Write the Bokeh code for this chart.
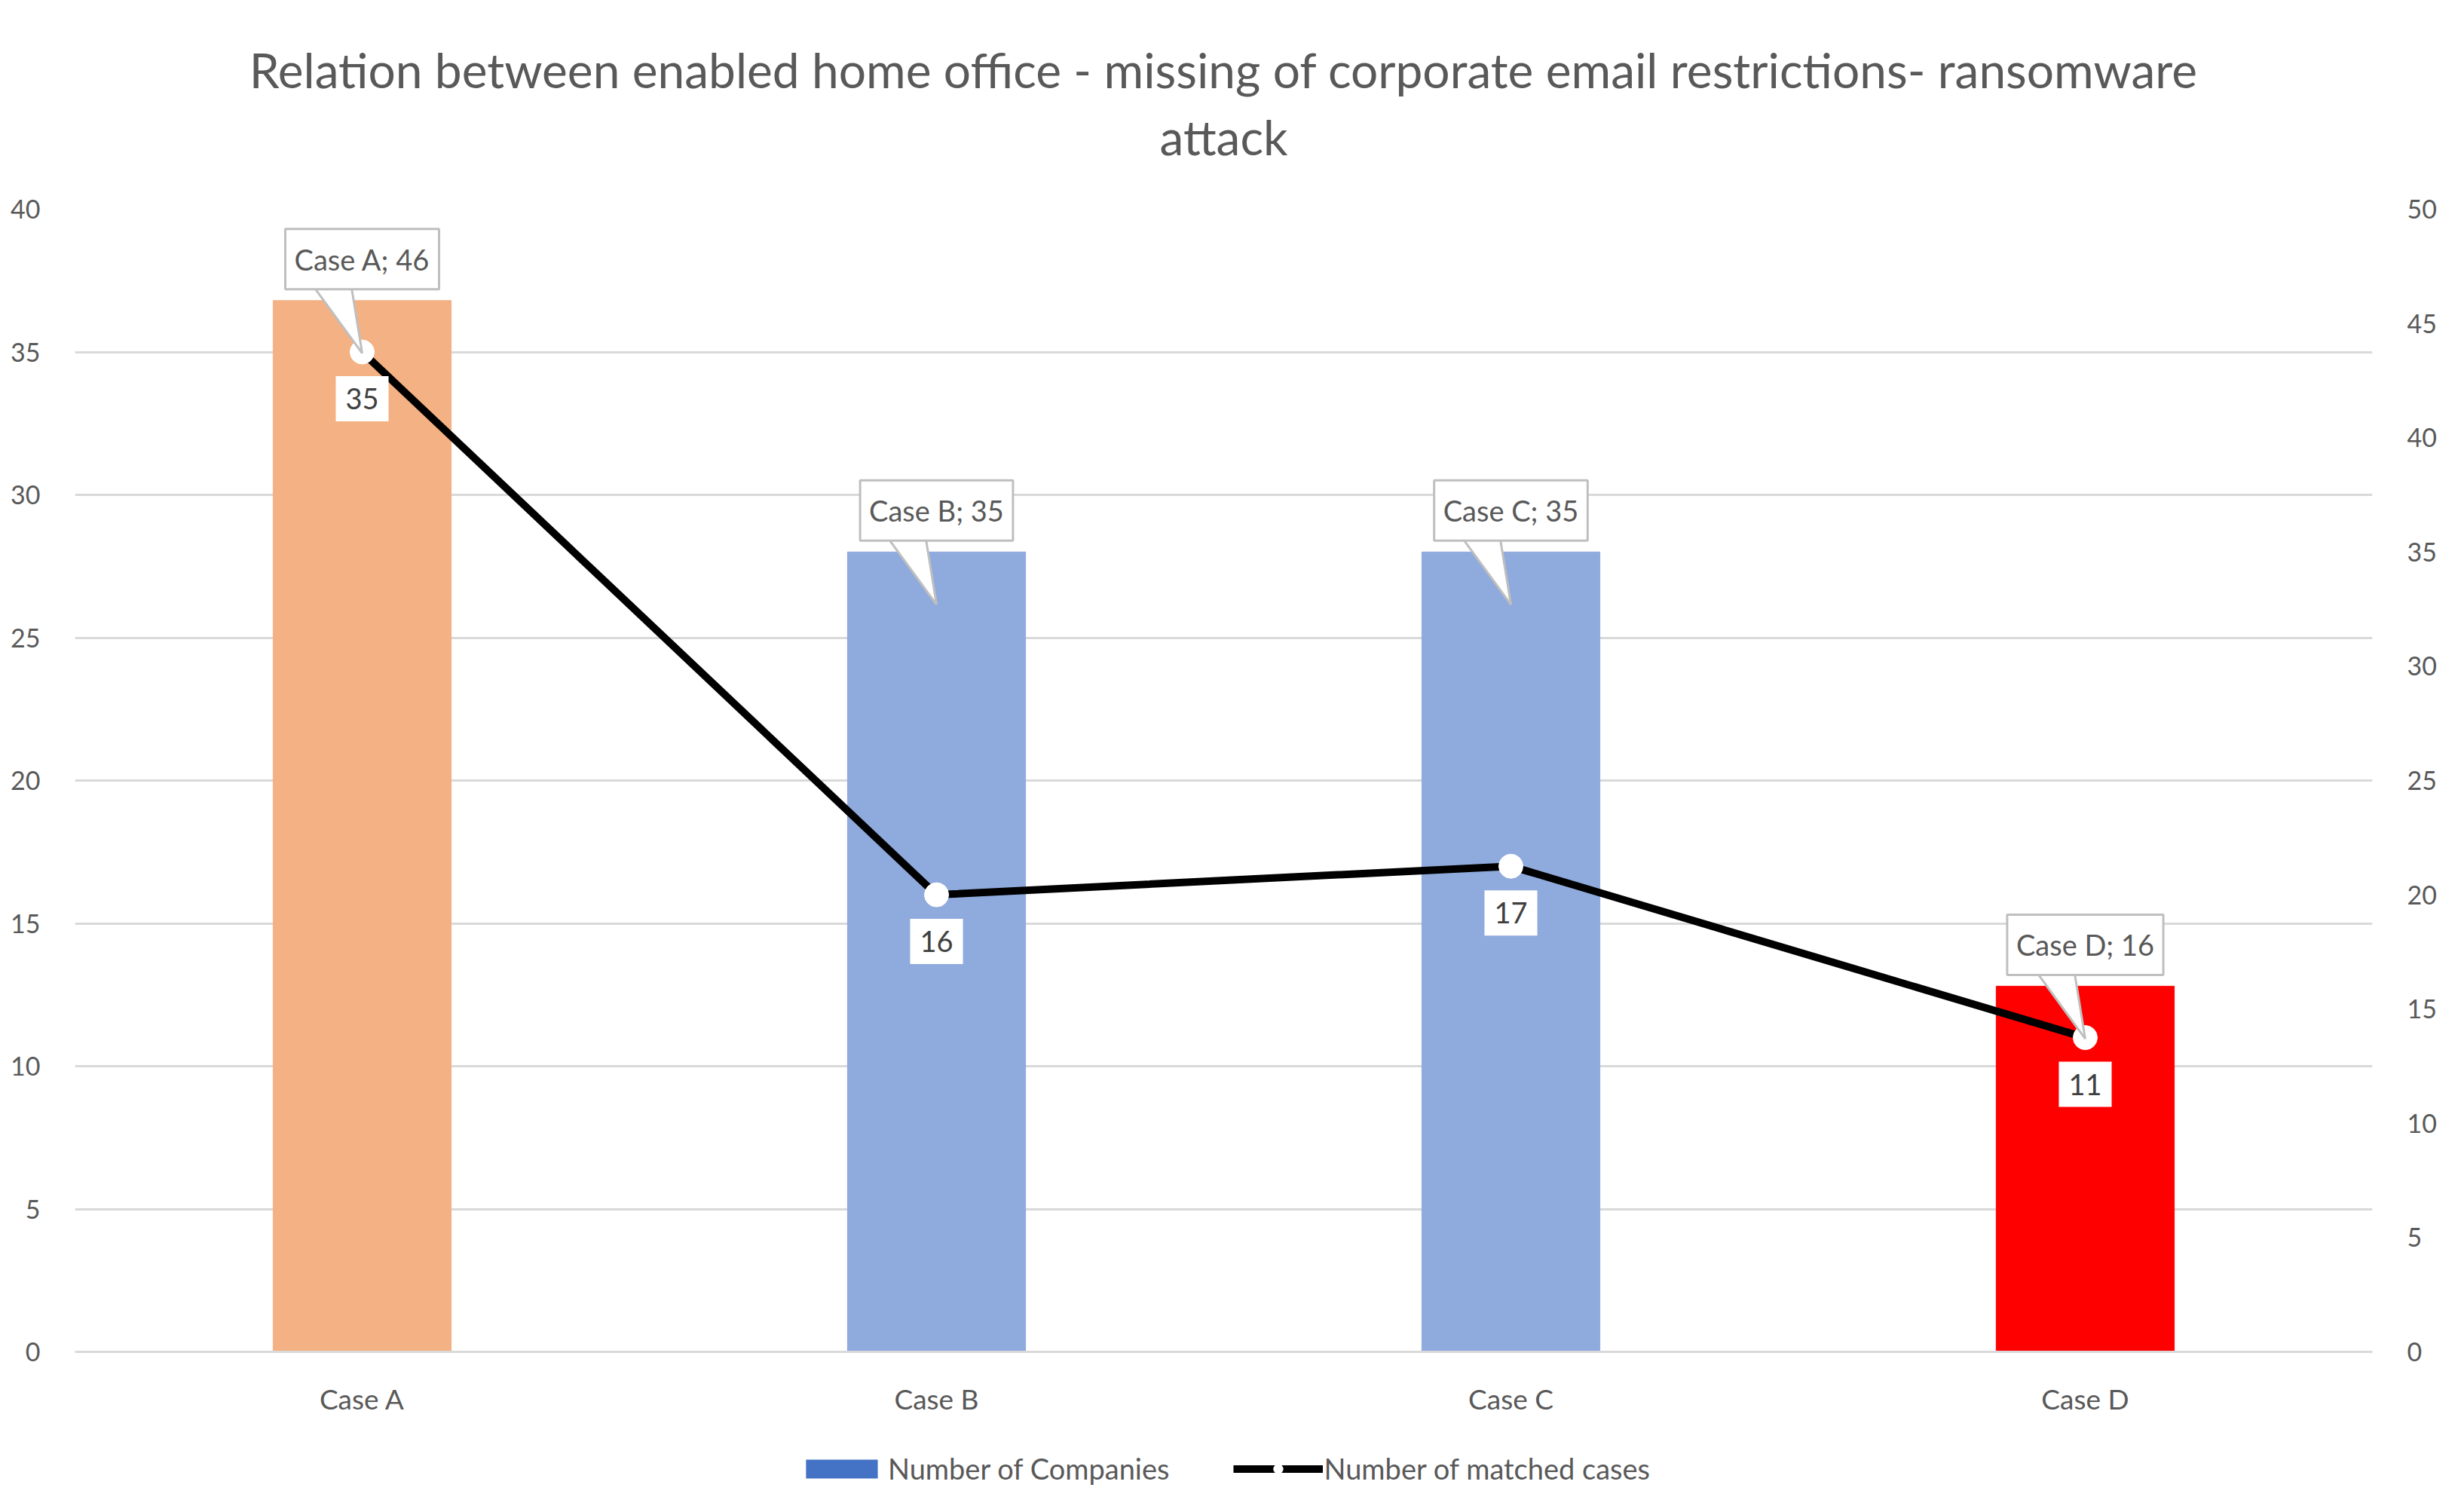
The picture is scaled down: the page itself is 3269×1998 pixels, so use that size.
from bokeh.plotting import figure
from bokeh.layouts import column
from bokeh.models import (Range1d, LinearAxis, FixedTicker, Legend, LegendItem,
                          Label, Title, ColumnDataSource)
from bokeh.embed import file_html
from bokeh.resources import INLINE

categories = ["Case A", "Case B", "Case C", "Case D"]
companies = [46, 35, 35, 16]          # right axis (bars)
matched = [35, 16, 17, 11]            # left axis (line)
bar_colors = ["#F4B183", "#8FAADC", "#8FAADC", "#FF0000"]
left_ticks = list(range(0, 41, 5))
right_ticks = list(range(0, 51, 5))
title_lines = ["Relation between enabled home office - missing of corporate email restrictions- ransomware",
               "attack"]
legend_labels = ["Number of Companies", "Number of matched cases"]

FONT = "Lato"
GREY = "#595959"
W = 3253
H_MAIN = 1898
H_LEG = 84

xpos = [i + 0.5 for i in range(len(categories))]

p = figure(width=W, height=H_MAIN, output_backend="svg", toolbar_location=None,
           x_range=Range1d(0, len(categories)), y_range=Range1d(0, left_ticks[-1]),
           min_border_left=99, min_border_right=106, min_border_top=277,
           min_border_bottom=105)
p.title.text = ""
p.outline_line_color = None
p.background_fill_color = "white"
p.border_fill_color = "white"
p.extra_y_ranges = {"right": Range1d(0, right_ticks[-1])}
p.add_layout(LinearAxis(y_range_name="right"), "right")

# titles (stacked from the frame outward)
p.add_layout(Title(text=" ", text_font_size="34px", text_font=FONT), "above")
for t in reversed(title_lines):
    p.add_layout(Title(text=t, align="center", text_font=FONT, text_font_size="64px",
                       text_font_style="normal", text_color=GREY), "above")

# axes
p.xaxis.ticker = FixedTicker(ticks=xpos)
p.xaxis.major_label_overrides = {x: c for x, c in zip(xpos, categories)}
p.xaxis.axis_line_color = "#D9D9D9"
p.xaxis.axis_line_width = 3
p.xaxis.major_tick_line_color = None
p.xaxis.minor_tick_line_color = None
p.xaxis.major_label_standoff = 33
p.xaxis.major_label_text_font_size = "37px"

p.yaxis[0].ticker = FixedTicker(ticks=left_ticks)
p.yaxis[1].ticker = FixedTicker(ticks=right_ticks)
for ax in p.yaxis:
    ax.axis_line_color = None
    ax.major_tick_line_color = None
    ax.minor_tick_line_color = None
    ax.major_label_standoff = 40
    ax.major_label_text_font_size = "34px"
for ax in list(p.xaxis) + list(p.yaxis):
    ax.major_label_text_font = FONT
    ax.major_label_text_color = GREY

p.xgrid.grid_line_color = None
p.ygrid.grid_line_color = "#D9D9D9"
p.ygrid.grid_line_width = 3

# bars
src = ColumnDataSource(dict(x=xpos, top=companies, color=bar_colors))
p.vbar(x="x", top="top", width=0.31, fill_color="color", line_color="color",
       source=src, y_range_name="right")

# line
p.line(xpos, matched, line_width=10, line_color="black")
p.scatter(xpos, matched, size=32, fill_color="white", line_color="white")

# callout pointers
p.patches(xs=[[x - 0.09, x - 0.02, x] for x in xpos],
          ys=[[v + 0.8, v + 0.8, v - 2.3] for v in companies],
          y_range_name="right", fill_color="white", line_color="#BFBFBF", line_width=3)

for x, c, v in zip(xpos, categories, companies):
    p.add_layout(Label(x=x, y=v, y_range_name="right", text=f"{c}; {v}",
                       text_align="center", text_baseline="bottom", y_offset=15,
                       padding=(12, 17), background_fill_color="white",
                       border_line_color="#BFBFBF", border_line_width=3,
                       text_font=FONT, text_font_size="38px", text_color=GREY))
for x, m in zip(xpos, matched):
    p.add_layout(Label(x=x, y=m, text=str(m), text_align="center", text_baseline="top",
                       y_offset=-32, padding=(13, 16), background_fill_color="white",
                       text_font=FONT, text_font_size="38px", text_color="#404040"))

# legend strip (separate canvas under the chart, with legend-only renderers)
lf = figure(width=W, height=H_LEG, output_backend="svg", toolbar_location=None,
            x_range=Range1d(0, 1), y_range=Range1d(0, 1),
            x_axis_type=None, y_axis_type=None, min_border=0)
lf.outline_line_color = None
lf.grid.grid_line_color = None
lf.background_fill_color = "white"
lf.border_fill_color = "white"
off = dict(x=[-5], y=[-5])
lb = lf.vbar(x=off["x"], top=off["y"], bottom=off["y"], width=0.1,
             fill_color="#4472C4", line_color=None)
ll = lf.line(x=[-6, -5], y=[-5, -5], line_width=10, line_color="black")
lm = lf.scatter(x=off["x"], y=off["y"], size=32, fill_color="white", line_color="white")
legend = Legend(items=[LegendItem(label=legend_labels[0], renderers=[lb]),
                       LegendItem(label=legend_labels[1], renderers=[ll, lm])],
                orientation="horizontal", location="top_center", margin=27, padding=3,
                border_line_color=None, background_fill_color=None,
                glyph_width=119, glyph_height=31, label_standoff=2, spacing=84,
                label_text_font=FONT, label_text_font_size="38px", label_text_color=GREY)
lf.add_layout(legend, "center")

open("out.html", "w").write(file_html(column(p, lf, spacing=0), INLINE))
